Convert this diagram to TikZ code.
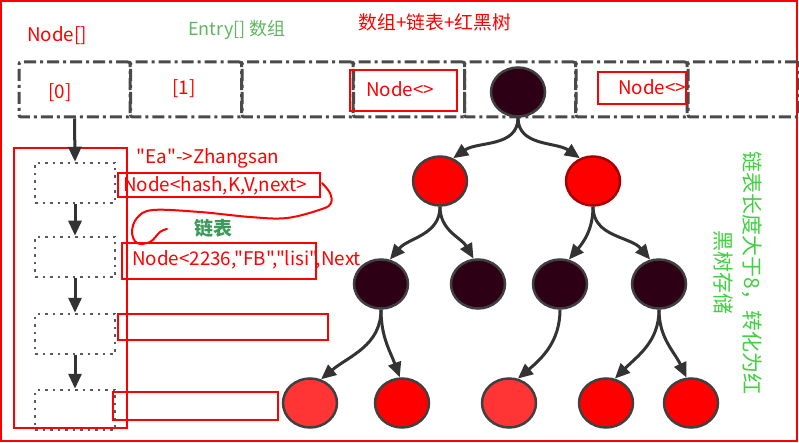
\documentclass[tikz,border=0pt]{standalone}
\usepackage{fontspec}
\newfontfamily\nf{Noto Sans CJK SC}
\usetikzlibrary{arrows.meta,shapes.geometric}
\definecolor{dashgray}{HTML}{4A4A4A}
\definecolor{dotgray}{HTML}{5A5A5A}
\definecolor{arrgray}{HTML}{333333}
\definecolor{blknode}{HTML}{2E0016}
\definecolor{lightred}{HTML}{FF3535}
\definecolor{vgreen}{HTML}{40D040}
\definecolor{lgreen}{HTML}{3E9A5A}
\definecolor{egreen}{HTML}{5DB85D}
\begin{document}
\begin{tikzpicture}[x=1pt,y=-1pt,
  redbox/.style={draw=red, line width=2.5pt},
  redtxt/.style={text=red, font=\nf\fontsize{18.8}{22}\selectfont, inner sep=0pt},
  cell/.style={draw=dashgray, line width=3pt, dash pattern=on 12pt off 4pt on 3pt off 4pt,
    minimum width=111pt, minimum height=55pt, rounded corners=2pt},
  dotbox/.style={draw=dotgray, line width=2.5pt, dash pattern=on 2.5pt off 5pt,
    minimum width=80pt, minimum height=40pt},
  arr/.style={draw=arrgray, line width=3pt, -{Triangle[length=15pt,width=13pt]}},
  tnode/.style={ellipse, draw=black!75, line width=2.5pt, minimum width=54pt, minimum height=49pt, inner sep=0pt},
  blk/.style={tnode, fill=blknode},
  rd/.style={tnode, fill=red},
  lrd/.style={tnode, fill=lightred}]
\useasboundingbox (0,0) rectangle (799,443);
% outer frame
\draw[red, line width=2pt] (1,1) rectangle (797,441);
% array cells
\node[cell] (c0) at (74.5,89.5) {};
\node[cell] (c1) at (186,89.5) {};
\node[cell] (c2) at (297.5,89.5) {};
\node[cell] (c3) at (409,89.5) {};
\node[cell] (c4) at (520,89.5) {};
\node[cell] (c5) at (631.5,89.5) {};
\node[cell] (c6) at (743.5,89.5) {};
% texts at top
\node[redtxt] (nodearr) at (57,36) {Node[]};
\node[text=egreen, font=\nf\fontsize{18}{21}\selectfont, inner sep=0pt] (entry) at (237,30) {Entry[] 数组};
\node[redtxt] (title) at (435,22) {数组+链表+红黑树};
\node[redtxt] (i0) at (60,93) {[0]};
\node[redtxt] (i1) at (184,89) {[1]};
\node[redbox, minimum width=107pt, minimum height=41pt] (nb1) at (403.5,90.5) {};
\node[redtxt] at (400,89) {Node<>};
\node[redbox, minimum width=88pt, minimum height=32pt] (nb2) at (642,88) {};
\node[redtxt] at (652,87) {Node<>};
% left column
\draw[red, line width=2.5pt] (14,148) rectangle (127,428);
\node[dotbox] (b1) at (75,183) {};
\node[dotbox] (b2) at (75,257) {};
\node[dotbox] (b3) at (75,334) {};
\node[dotbox] (b4) at (75,410) {};
\draw[arr] (c0.south) -- (b1.north);
\draw[arr] (b1.south) -- (b2.north);
\draw[arr] (b2.south) -- (b3.north);
\draw[arr] (b3.south) -- (b4.north);
% red boxes and texts
\node[redtxt] (ea) at (208,158) {"Ea"->Zhangsan};
\node[redbox, minimum width=202pt, minimum height=24pt] (rb1) at (219,185) {};
\node[redtxt] at (215,186) {Node<hash,K,V,next>};
\node[redbox, minimum width=194pt, minimum height=36pt] (rb2) at (219,261) {};
\node[redtxt, anchor=west] at (132,260) {Node<2236,"FB","lisi",Next};
\node[redbox, minimum width=210pt, minimum height=26pt] (rb3) at (223,327) {};
\node[redbox, minimum width=165pt, minimum height=28pt] (rb4) at (195.5,406) {};
\node[text=lgreen, font=\nf\bfseries\fontsize{19}{22}\selectfont, inner sep=0pt] (lb) at (213,228) {链表};
\draw[red, line width=2pt, line cap=round, line join=round] plot[smooth, tension=0.6] coordinates {(322,183) (330,193) (331,203) (322,209) (287,218) (250,217) (200,212) (153,210) (137,218) (132,232) (137,243) (150,242) (160,232) (167,229)};
% tree
\node[blk] (r) at (518,92) {};
\node[rd] (a1) at (440,181) {};
\node[rd, draw=red!65!black] (a2) at (593,181) {};
\node[blk] (b21) at (381,284) {};
\node[blk] (b22) at (478,284) {};
\node[blk] (b23) at (560,284) {};
\node[blk] (b24) at (659,284) {};
\node[lrd] (l1) at (310,403) {};
\node[rd] (l2) at (402,403) {};
\node[lrd] (l3) at (509,403) {};
\node[rd] (l4) at (606,403) {};
\node[rd] (l5) at (691,403) {};
\draw[arr] (r.south) to[out=-90,in=35] (a1.60);
\draw[arr] (r.south) to[out=-90,in=145] (a2.120);
\draw[arr] (a1.south) to[out=-90,in=50] (b21.70);
\draw[arr] (a1.south) to[out=-90,in=120] (b22.100);
\draw[arr] (a2.south) to[out=-90,in=50] (b23.70);
\draw[arr] (a2.south) to[out=-90,in=130] (b24.110);
\draw[arr] (b21.south) to[out=-90,in=40] (l1.65);
\draw[arr] (b21.south) to[out=-90,in=110] (l2.95);
\draw[arr] (b23.south) to[out=-90,in=40] (l3.70);
\draw[arr] (b24.south) to[out=-90,in=45] (l4.70);
\draw[arr] (b24.south) to[out=-90,in=115] (l5.100);
% vertical text
\node[rotate=-90, align=center, text=vgreen, font=\nf\fontsize{21}{29}\selectfont, inner sep=0pt] (vt) at (738,273) {链表长度大于8，转化为红\\黑树存储};
\end{tikzpicture}
\end{document}
